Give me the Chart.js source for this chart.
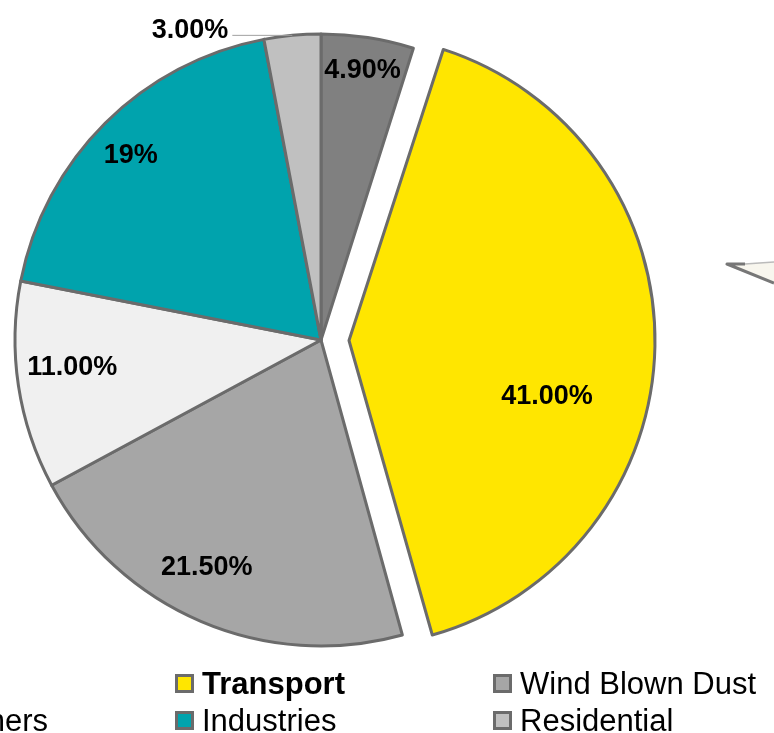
<!DOCTYPE html>
<html>
<head>
<meta charset="utf-8">
<script src="https://cdn.jsdelivr.net/npm/chart.js@4.4.1/dist/chart.umd.min.js"></script>
<style>
    html, body { margin: 0; padding: 0; background: #fff; overflow: hidden; }
    #wrap { position: relative; width: 774px; height: 733px; overflow: hidden; }
    #sourceChart { position: absolute; left: 0; top: 0; }
    #legend {
        position: absolute; left: -72px; top: 665px;
        display: grid; grid-template-columns: 247px 318px 300px; grid-auto-rows: 37px;
        font-family: "Liberation Sans", Arial, sans-serif; font-size: 31px; color: #000;
    }
    .item { display: flex; align-items: center; white-space: nowrap; }
    .box { width: 13px; height: 13px; border: 3px solid #6b6b6b; margin-right: 8px; flex: none; }
</style>
</head>
<body>
<div id="wrap">
    <canvas id="sourceChart" width="774" height="733"></canvas>
    <div id="legend"></div>
</div>
<script>
// Dữ liệu nguồn ô nhiễm (%), theo chiều kim đồng hồ từ đỉnh
const sources = ['DG Sets', 'Transport', 'Wind Blown Dust', 'Others', 'Industries', 'Residential'];
const shares = [4.9, 41, 21.5, 11, 19, 3];
const decimals = [2, 2, 2, 2, 0, 2];

const colors = ['#808080', '#ffe600', '#a6a6a6', '#f0f0f0', '#00a3ad', '#c0c0c0'];
const explode = [0, 112, 0, 0, 0, 0];
const pieRadius = 306;
// vị trí nhãn: [tỉ lệ bán kính, lệch góc (độ)], null = nhãn bên ngoài có đường dẫn
const labelPos = [[0.89, 0], [0.672, 14.6], [0.833, 3.5], [0.818, 2.2], [0.867, -1], null];

// Chart.js phóng to bán kính miếng tách ra, bù lại để giữ cùng bán kính
const radiusFix = {
    id: 'radiusFix',
    beforeDatasetsDraw(chart) {
        const meta = chart.getDatasetMeta(0);
        meta.data.forEach((arc, i) => {
            const off = explode[i] / 4;
            const fix = 1 - Math.sin(Math.min(Math.PI, arc.circumference));
            arc.outerRadius = pieRadius - off * fix;
        });
    }
};

const labelPlugin = {
    id: 'pieLabels',
    afterDatasetsDraw(chart) {
        const ctx = chart.ctx;
        const meta = chart.getDatasetMeta(0);
        ctx.save();
        ctx.font = 'bold 27px "Liberation Sans", Arial, sans-serif';
        ctx.fillStyle = '#000';
        meta.data.forEach((arc, i) => {
            const mid = (arc.startAngle + arc.endAngle) / 2;
            const shift = explode[i] / 4;
            const cx = arc.x + Math.cos(mid) * shift;
            const cy = arc.y + Math.sin(mid) * shift;
            const text = shares[i].toFixed(decimals[i]) + '%';
            const pos = labelPos[i];
            if (pos) {
                const a = mid + pos[1] * Math.PI / 180;
                const r = pieRadius * pos[0];
                ctx.textAlign = 'center';
                ctx.textBaseline = 'middle';
                ctx.fillText(text, cx + Math.cos(a) * r, cy + Math.sin(a) * r);
            } else {
                const ex = cx + Math.cos(mid) * pieRadius;
                const ey = cy + Math.sin(mid) * pieRadius;
                ctx.strokeStyle = '#a0a0a0';
                ctx.lineWidth = 1;
                ctx.beginPath();
                ctx.moveTo(ex, ey);
                ctx.lineTo(ex - 60, ey);
                ctx.stroke();
                ctx.textAlign = 'right';
                ctx.textBaseline = 'alphabetic';
                ctx.fillText(text, ex - 64, ey + 3);
            }
        });
        ctx.restore();
    }
};

// mũi chú thích bị cắt ở mép phải
const calloutPlugin = {
    id: 'calloutTail',
    afterDraw(chart) {
        const ctx = chart.ctx;
        const w = chart.width;
        ctx.save();
        ctx.beginPath();
        ctx.moveTo(726, 264);
        ctx.lineTo(w, 262);
        ctx.lineTo(w, 283);
        ctx.closePath();
        ctx.fillStyle = '#f8f6ee';
        ctx.fill();
        ctx.strokeStyle = '#777';
        ctx.lineWidth = 3;
        ctx.lineJoin = 'round';
        ctx.beginPath();
        ctx.moveTo(w, 283);
        ctx.lineTo(727, 264);
        ctx.lineTo(745, 264);
        ctx.stroke();
        ctx.strokeStyle = '#bbb';
        ctx.lineWidth = 1.5;
        ctx.beginPath();
        ctx.moveTo(745, 264);
        ctx.lineTo(w, 262);
        ctx.stroke();
        ctx.restore();
    }
};

const sourceChart = new Chart(document.getElementById('sourceChart'), {
    type: 'pie',
    data: {
        labels: sources,
        datasets: [{
            data: shares,
            backgroundColor: colors,
            borderColor: '#6b6b6b',
            borderWidth: 3,
            borderJoinStyle: 'round',
            offset: explode,
            clip: false
        }]
    },
    options: {
        responsive: false,
        animation: false,
        radius: pieRadius,
        layout: { padding: { left: 0, top: 0, right: 132, bottom: 53 } },
        plugins: {
            legend: { display: false },
            tooltip: { enabled: false }
        }
    },
    plugins: [radiusFix, labelPlugin, calloutPlugin]
});

// chú giải HTML, hàng đầu tiên cột 1 bị cắt mất trong ảnh gốc
const legendEl = document.getElementById('legend');
sources.forEach((name, i) => {
    const item = document.createElement('div');
    item.className = 'item';
    if (i === 0) item.style.visibility = 'hidden';
    const box = document.createElement('span');
    box.className = 'box';
    box.style.background = colors[i];
    const label = document.createElement('span');
    label.textContent = name;
    if (name === 'Transport') label.style.fontWeight = 'bold';
    item.appendChild(box);
    item.appendChild(label);
    legendEl.appendChild(item);
});
</script>
</body>
</html>
